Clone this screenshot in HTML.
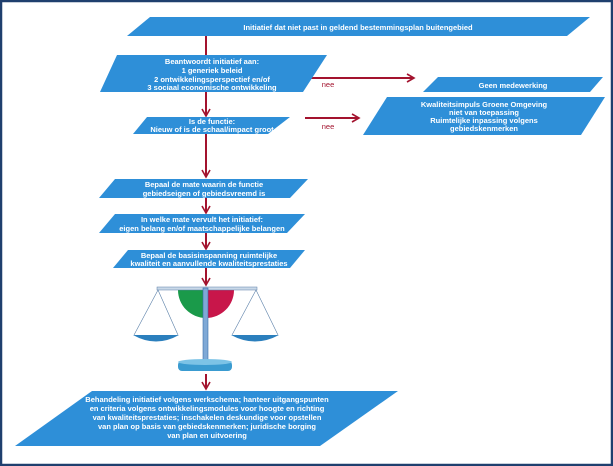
<!DOCTYPE html>
<html><head><style>
html,body{margin:0;padding:0;background:#fff}
svg{display:block}
text{font-family:"Liberation Sans",sans-serif;font-size:7.5px;font-weight:bold;fill:#fff;text-anchor:middle}
</style></head><body>
<svg width="613" height="466" viewBox="0 0 613 466">
<rect x="1" y="1" width="611" height="464" fill="#fff" stroke="#1f3f6e" stroke-width="2.5"/>
<defs><marker id="a" markerWidth="10" markerHeight="10" refX="8" refY="5" orient="auto" markerUnits="userSpaceOnUse"><path d="M1,1 L8,5 L1,9" fill="none" stroke="#a3132e" stroke-width="1.6"/></marker></defs>
<g stroke="#a3132e" stroke-width="2" fill="none">
<line x1="206" y1="36" x2="206" y2="116" marker-end="url(#a)"/>
<line x1="206" y1="134" x2="206" y2="177" marker-end="url(#a)"/>
<line x1="206" y1="198" x2="206" y2="213" marker-end="url(#a)"/>
<line x1="206" y1="233" x2="206" y2="249" marker-end="url(#a)"/>
<line x1="206" y1="268" x2="206" y2="285" marker-end="url(#a)"/>
<line x1="206" y1="374" x2="206" y2="389" marker-end="url(#a)"/>
<line x1="305" y1="78" x2="414" y2="78" marker-end="url(#a)"/>
<line x1="305" y1="118" x2="359" y2="118" marker-end="url(#a)"/>
</g>
<text x="328" y="87" style="fill:#a3132e;font-weight:normal">nee</text>
<text x="328" y="129" style="fill:#a3132e;font-weight:normal">nee</text>
<g fill="#2e8fd8">
<polygon points="150,17 590,17 567,36 127,36"/>
<polygon points="117,55 327,55 303,92 100,92"/>
<polygon points="147,117 290,117 268,134 133,134"/>
<polygon points="438,77 603,77 590,92 423,92"/>
<polygon points="387,97 605,97 581,135 363,135"/>
<polygon points="115,179 308,179 290,198 99,198"/>
<polygon points="115,214 305,214 287,233 99,233"/>
<polygon points="128,250 305,250 290,268 113,268"/>
<polygon points="92,391 398,391 320,446 15,446"/>
</g>
<text x="358" y="30">Initiatief dat niet past in geldend bestemmingsplan buitengebied</text>
<text x="212" y="64">Beantwoordt initiatief aan:</text>
<text x="212" y="73">1 generiek beleid</text>
<text x="212" y="82">2 ontwikkelingsperspectief en/of</text>
<text x="212" y="90">3 sociaal economische ontwikkeling</text>
<text x="212" y="124">Is de functie:</text>
<text x="212" y="132">Nieuw of is de schaal/impact groot</text>
<text x="513" y="88">Geen medewerking</text>
<text x="484" y="107">Kwaliteitsimpuls Groene Omgeving</text>
<text x="484" y="115">niet van toepassing</text>
<text x="484" y="123">Ruimtelijke inpassing volgens</text>
<text x="484" y="131">gebiedskenmerken</text>
<text x="204" y="187">Bepaal de mate waarin de functie</text>
<text x="204" y="196">gebiedseigen of gebiedsvreemd is</text>
<text x="202" y="222">In welke mate vervult het initiatief:</text>
<text x="202" y="231">eigen belang en/of maatschappelijke belangen</text>
<text x="209" y="258">Bepaal de basisinspanning ruimtelijke</text>
<text x="209" y="266">kwaliteit en aanvullende kwaliteitsprestaties</text>
<text x="207" y="402">Behandeling initiatief volgens werkschema; hanteer uitgangspunten</text>
<text x="207" y="411">en criteria volgens ontwikkelingsmodules voor hoogte en richting</text>
<text x="207" y="420">van kwaliteitsprestaties; inschakelen deskundige voor opstellen</text>
<text x="207" y="429">van plan op basis van gebiedskenmerken; juridische borging</text>
<text x="207" y="438">van plan en uitvoering</text>
<!-- scale -->
<path d="M178,290 A28,28 0 0 0 206,318 L206,290Z" fill="#1a9a4a"/>
<path d="M206,290 L234,290 A28,28 0 0 1 206,318Z" fill="#c8164a"/>
<rect x="157" y="287" width="100" height="3" fill="#c9d8e8" stroke="#5a7fa8" stroke-width="0.5"/>
<g stroke="#5a7fa8" stroke-width="0.6" fill="none">
<line x1="158" y1="290" x2="134" y2="335"/><line x1="158" y1="290" x2="178" y2="335"/>
<line x1="256" y1="290" x2="232" y2="335"/><line x1="256" y1="290" x2="278" y2="335"/>
</g>
<path d="M133,335 Q156,348 179,335Z" fill="#2b7fbd"/>
<path d="M231,335 Q255,348 279,335Z" fill="#2b7fbd"/>
<rect x="203" y="288" width="5" height="74" fill="#7fa9d6" stroke="#3b6ea8" stroke-width="0.6"/>
<rect x="178" y="361" width="54" height="10" rx="4" fill="#3a9bd0"/>
<ellipse cx="205" cy="362" rx="27" ry="3" fill="#7cc3e6"/>
</svg>
</body></html>
